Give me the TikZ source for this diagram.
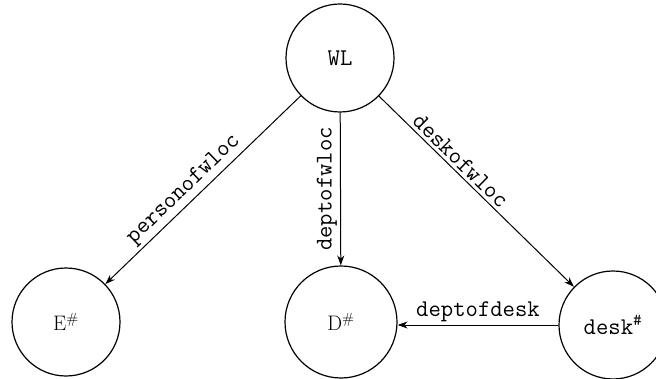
\documentclass[tikz,border=0pt]{standalone}
\usepackage{fontspec}
\usetikzlibrary{arrows.meta}
\begin{document}
\begin{tikzpicture}[x=1pt,y=1pt,
  entity/.style={circle,draw,line width=1.2pt,inner sep=0pt,
    font=\ttfamily\fontsize{24}{27}\selectfont},
  rel/.style={line width=1pt,-{Stealth[length=10pt,width=7pt]}},
  lbl/.style={font=\ttfamily\fontsize{24}{27}\selectfont,inner sep=3pt}]
\useasboundingbox (0,0) rectangle (656,378);
% entity types
\node[entity,minimum size=108pt] (wl)   at (340,320) {WL};
\node[entity,minimum size=108pt] (e)    at (66,56)   {\rmfamily\fontsize{21}{24}\selectfont E\textsuperscript{\#}};
\node[entity,minimum size=112pt] (d)    at (341,56)  {\rmfamily\fontsize{21}{24}\selectfont D\textsuperscript{\#}};
\node[entity,minimum size=108pt] (desk) at (613,53)  {desk\textsuperscript{\#}};
% functional relationships
\draw[rel] (wl) -- node[lbl,pos=0.55,sloped,above] {personofwloc} (e);
\draw[rel] (wl) -- node[lbl,midway,rotate=90,anchor=south] {deptofwloc} (d);
\draw[rel] (wl) -- node[lbl,pos=0.38,sloped,above] {deskofwloc} (desk);
\draw[rel] (desk.west) -- node[lbl,midway,above] {deptofdesk} (desk.west -| d.east);
\end{tikzpicture}
\end{document}
